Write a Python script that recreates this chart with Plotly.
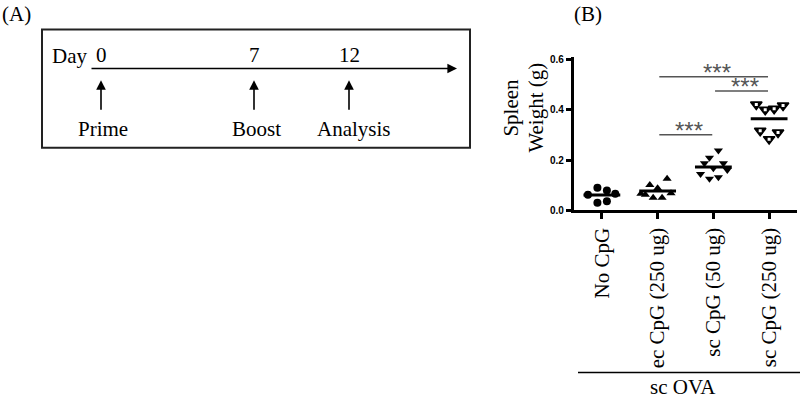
import numpy as np
import plotly.graph_objects as go

# ---------------- Data (panel B) ----------------
groups = ["No CpG", "ec CpG (250 ug)", "sc CpG (50 ug)", "sc CpG (250 ug)"]
no_cpg = [0.062, 0.090, 0.079, 0.066, 0.030, 0.036]
no_cpg_jit = [-0.25, -0.08, 0.09, 0.24, -0.08, 0.09]
ec_250 = [0.066, 0.100, 0.088, 0.125, 0.062, 0.050, 0.050, 0.068]
ec_250_jit = [-0.30, -0.14, 0.00, 0.17, -0.22, -0.08, 0.08, 0.24]
sc_50 = [0.238, 0.209, 0.187, 0.187, 0.167, 0.160, 0.144, 0.125, 0.131]
sc_50_jit = [0.09, -0.07, -0.16, 0.18, 0.00, 0.25, -0.23, -0.07, 0.09]
sc_250 = [0.421, 0.400, 0.404, 0.417, 0.316, 0.283, 0.309]
sc_250_jit = [-0.23, -0.07, 0.09, 0.25, -0.16, 0.00, 0.16]
y_ticks = [0.0, 0.2, 0.4, 0.6]
y_tick_labels = ["0.0", "0.2", "0.4", "0.6"]
# significance comparisons: (group a, group b, bar height, label)
sig_pairs = [(1, 3, 0.531, "***"), (2, 3, 0.475, "***"), (1, 2, 0.300, "***")]

# ---------------- Data (panel A schematic) ----------------
days = ["0", "7", "12"]
events = ["Prime", "Boost", "Analysis"]

W, H = 800, 401
def px(x):
    return x / W
def py(y):
    return (H - y) / H

fig = go.Figure()

series = [
    (no_cpg, no_cpg_jit, dict(symbol="circle", size=8, color="black")),
    (ec_250, ec_250_jit, dict(symbol="triangle-up", size=8, color="black")),
    (sc_50, sc_50_jit, dict(symbol="triangle-down", size=8, color="black")),
    (sc_250, sc_250_jit, dict(symbol="triangle-down", size=10, color="black",
                              line=dict(color="black", width=1.5))),
]
for i, (vals, jit, mk) in enumerate(series):
    xs = [i + j for j in jit]
    fig.add_trace(go.Scatter(
        x=xs, y=vals, mode="markers",
        marker=mk, showlegend=False, name=groups[i], hoverinfo="skip"))
    if i == 3:
        # small white centre of the last group's markers
        fig.add_trace(go.Scatter(
            x=xs, y=vals, mode="markers", showlegend=False, hoverinfo="skip",
            marker=dict(symbol="square", size=3, color="white", line=dict(width=0))))
    m = float(np.mean(vals))
    fig.add_shape(type="line", xref="x", yref="y", x0=i - 0.33, x1=i + 0.33,
                  y0=m, y1=m, line=dict(color="black", width=3))

for a, b, h, lab in sig_pairs:
    fig.add_shape(type="line", xref="x", yref="y", x0=a + 0.03, x1=b - 0.02,
                  y0=h, y1=h, line=dict(color="#555555", width=1.5))
    fig.add_annotation(x=(a + b) / 2 + 0.07, y=h, xref="x", yref="y", text=lab,
                       showarrow=False, xanchor="center", yanchor="bottom", yshift=-11,
                       font=dict(family="Liberation Sans", size=24, color="#555555"))

fig.update_layout(
    width=W, height=H,
    margin=dict(l=0, r=0, t=0, b=0),
    paper_bgcolor="white", plot_bgcolor="white",
    xaxis=dict(domain=[px(574), px(797)], range=[-0.5, 3.5],
               tickvals=list(range(len(groups))), ticktext=groups, tickangle=-90,
               tickfont=dict(family="Liberation Serif", size=21, color="black"),
               showline=True, linewidth=3.3, linecolor="black",
               ticks="outside", ticklen=6, tickwidth=3, tickcolor="black",
               showgrid=False, zeroline=False, fixedrange=True),
    yaxis=dict(domain=[py(212), py(55.5)], range=[0, 0.609],
               tickvals=y_ticks, ticktext=[f"<b>{t}</b>" for t in y_tick_labels],
               tickfont=dict(family="Liberation Sans", size=10, color="black"),
               showline=True, linewidth=3.3, linecolor="black",
               ticks="outside", ticklen=5, tickwidth=2.5, tickcolor="black",
               showgrid=False, zeroline=False, fixedrange=True),
)

serif = dict(family="Liberation Serif", size=21, color="black")

def label(x, y, text, angle=0, xanchor="center"):
    fig.add_annotation(x=px(x), y=py(y), xref="paper", yref="paper", text=text,
                       textangle=angle, showarrow=False, font=serif,
                       xanchor=xanchor, yanchor="middle")

# y-axis title (two lines)
label(511, 107, "Spleen", -90)
label(536, 107, "Weight (g)", -90)

# group bar under categories
fig.add_shape(type="line", xref="paper", yref="paper", x0=px(578), x1=px(800),
              y0=py(378), y1=py(378), line=dict(color="black", width=1.5))
label(683, 393, "sc OVA")

# panel labels
label(16, 11, "(A)")
label(588, 11, "(B)")

# ---------------- Panel A schematic ----------------
fig.add_shape(type="rect", xref="paper", yref="paper", x0=px(42), x1=px(470),
              y0=py(148), y1=py(27), line=dict(color="#222222", width=2))
label(50, 54, "Day", xanchor="left")
# timeline arrow
fig.add_annotation(x=px(457), y=py(67), ax=90 - 457, ay=0, xref="paper", yref="paper",
                   axref="pixel", ayref="pixel", text="", showarrow=True,
                   arrowhead=2, arrowsize=1.2, arrowwidth=1.6, arrowcolor="black")
event_x = [101, 254, 349]
label_x = [103, 256, 354]
for d, ev, ex, lx in zip(days, events, event_x, label_x):
    label(ex, 53, d)
    fig.add_annotation(x=px(ex), y=py(79), ax=0, ay=31, xref="paper", yref="paper",
                       axref="pixel", ayref="pixel", text="", showarrow=True,
                       arrowhead=2, arrowsize=1.2, arrowwidth=1.6, arrowcolor="black")
    label(lx, 129, ev)

post = (
    "document.documentElement.style.margin='0';"
    "document.body.style.margin='0';"
    "document.documentElement.style.overflow='hidden';"
    "document.body.style.overflow='hidden';"
)
fig.write_html("out.html", config={"displayModeBar": False}, post_script=post)
